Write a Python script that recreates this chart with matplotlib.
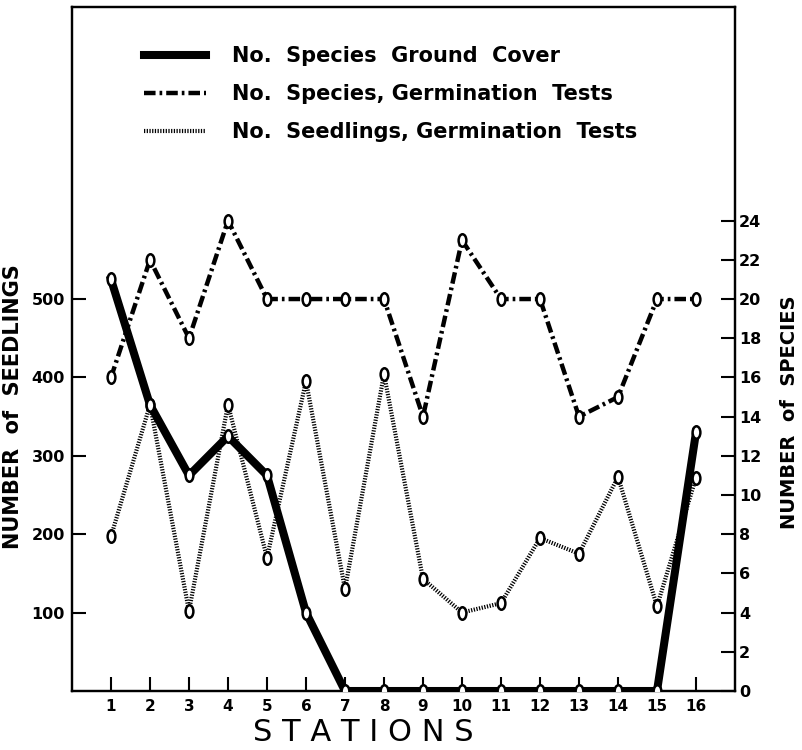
import matplotlib
matplotlib.use("Agg")
import matplotlib.pyplot as plt
from matplotlib.path import Path
from matplotlib.lines import Line2D
import matplotlib.transforms as mtransforms

stations = list(range(1, 17))
species_ground_cover = [21, 14.6, 11, 13, 11, 4, 0, 0, 0, 0, 0, 0, 0, 0, 0, 13.2]
species_germination = [16, 22, 18, 24, 20, 20, 20, 20, 14, 23, 20, 20, 14, 15, 20, 20]
seedlings_germination = [197, 365, 102, 365, 170, 395, 130, 404, 143, 100, 112, 195, 175, 273, 108, 272]

left_ticks = [100, 200, 300, 400, 500]
right_ticks = list(range(0, 26, 2))

labels = ["No.  Species  Ground  Cover",
          "No.  Species, Germination  Tests",
          "No.  Seedlings, Germination  Tests"]

plt.rcParams['font.family'] = ['Liberation Sans Narrow', 'DejaVu Sans']

fig = plt.figure(figsize=(8.02, 7.5), dpi=100)
ax = fig.add_axes([72/802, 1-691/750, (735-72)/802, (691-7)/750])
ax2 = ax.twinx()

oval = Path.unit_circle().transformed(mtransforms.Affine2D().scale(0.62, 1.0))

mk = dict(marker=oval, markersize=9, markerfacecolor='white',
          markeredgecolor='black', markeredgewidth=1.8)

gc_style = dict(color='black', lw=5.8)
germ_style = dict(color='black', lw=3.2, dashes=(2.6, 0.9, 0.6, 0.9))
seed_style = dict(color='black', lw=3.0, dashes=(0.3, 0.35))

# seedlings (left axis)
ax.plot(stations, seedlings_germination, dash_capstyle='butt', **seed_style, **mk, zorder=2)
# species germination (right axis)
ax2.plot(stations, species_germination, dash_capstyle='butt', **germ_style, **mk, zorder=3)
# species ground cover (right axis)
ax2.plot(stations, species_ground_cover, solid_joinstyle='round', **gc_style, **mk, zorder=4)

ax.set_xlim(0, 17)
ax.set_ylim(0, 872)
ax2.set_ylim(0, 34.9)

ax.set_xticks(stations)
ax.set_xticklabels([str(s) for s in stations], fontsize=11, fontweight='bold')
ax.set_yticks(left_ticks)
ax.set_yticklabels([str(t) for t in left_ticks], fontsize=11.5, fontweight='bold')
ax2.set_yticks(right_ticks)
ax2.set_yticklabels([str(t) for t in right_ticks], fontsize=11.5, fontweight='bold')

for a in (ax, ax2):
    for s in a.spines.values():
        s.set_linewidth(1.6)
ax.tick_params(axis='x', direction='in', length=10, width=1.5, pad=6)
ax.tick_params(axis='y', direction='in', length=10, width=1.5, pad=5)
ax2.tick_params(axis='y', direction='in', length=10, width=1.5, pad=3)

ax.set_xlabel("S T A T I O N S", fontsize=22, family='DejaVu Sans',
              fontweight='normal')
ax.xaxis.set_label_coords(0.44, -0.04)
ax.set_ylabel("NUMBER  of  SEEDLINGS", fontsize=15, family='DejaVu Sans',
              fontweight='bold')
ax.yaxis.set_label_coords(-0.074, 0.416)
ax2.set_ylabel("NUMBER  of  SPECIES", fontsize=14, family='DejaVu Sans',
               fontweight='bold', rotation=90)
ax2.yaxis.set_label_coords(1.068, 0.407)

handles = [Line2D([], [], **gc_style),
           Line2D([], [], **germ_style),
           Line2D([], [], **seed_style)]
leg = ax.legend(handles, labels, loc='upper left',
                bbox_to_anchor=(144/802, 1-46/750), bbox_transform=fig.transFigure,
                frameon=False, borderpad=0, borderaxespad=0, handlelength=2.98,
                handletextpad=1.25, labelspacing=0.86,
                prop={'family': ['Liberation Sans Narrow', 'DejaVu Sans'],
                      'weight': 'bold', 'size': 15})

fig.savefig("out.png", dpi=100)
